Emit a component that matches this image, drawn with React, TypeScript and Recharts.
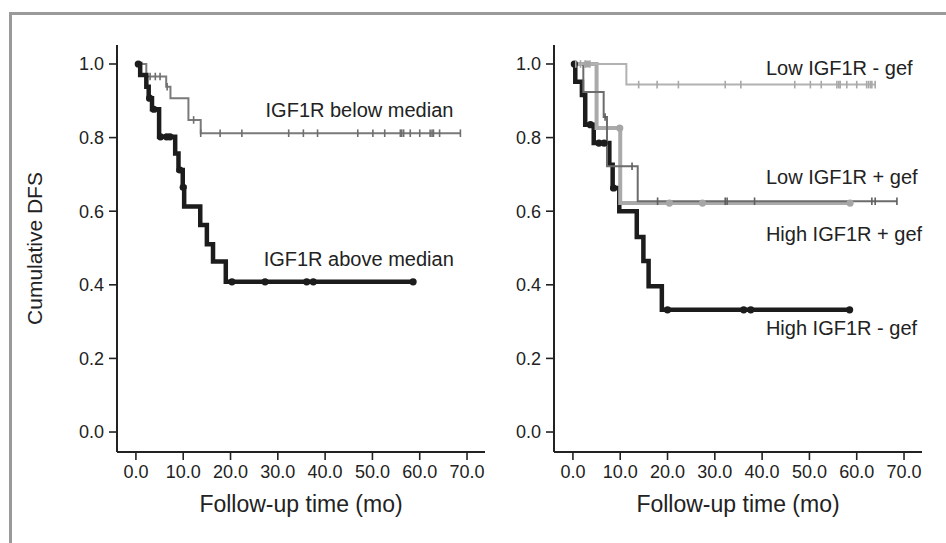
import React from 'react';
import { LineChart, Line, XAxis, YAxis, ReferenceDot } from 'recharts';

// ---------- shared axis values ----------
const xTicks = [0, 10, 20, 30, 40, 50, 60, 70];
const yTicks = [0, 0.2, 0.4, 0.6, 0.8, 1.0];
const xTitle = 'Follow-up time (mo)';
const yTitle = 'Cumulative DFS';

// ---------- left panel: steps [time, survival] and censor times ----------
const aboveSteps: [number, number][] = [
  [0, 1.0], [0.9, 0.97], [2.2, 0.938], [2.7, 0.907], [3.4, 0.877], [4.9, 0.802],
  [8.3, 0.757], [9.0, 0.712], [9.9, 0.665], [10.2, 0.613], [13.6, 0.5625],
  [15.0, 0.51], [16.3, 0.463], [19.0, 0.408],
];
const aboveCensor = [0.5, 2.9, 3.8, 5.2, 6.5, 7.2, 9.3, 10.0, 20.3, 27.3, 36.1, 37.5, 58.6];

const belowSteps: [number, number][] = [
  [0, 1.0], [2.2, 0.966], [6.4, 0.938], [7.3, 0.907], [11.1, 0.848], [13.7, 0.812],
];
const belowCensor = [
  3.0, 4.1, 5.1, 6.6, 12.2, 13.7, 17.8, 22.4, 32.3, 35.4, 38.4, 46.9, 50.1, 52.6,
  55.9, 56.2, 56.6, 58.0, 60.0, 62.2, 62.6, 62.9, 64.2, 68.6,
];

// ---------- right panel ----------
const lowMinusSteps: [number, number][] = [[0, 1.0], [11.3, 0.944]];
const lowMinusCensor = [
  0.6, 1.6, 2.6, 3.6, 13.9, 17.8, 22.3, 32.2, 35.5, 46.9, 50.2, 52.5, 55.8, 56.2,
  56.5, 57.9, 60.0, 62.1, 62.5, 62.9, 63.2, 63.9,
];

const lowPlusSteps: [number, number][] = [
  [0, 1.0], [2.2, 0.924], [6.5, 0.856], [7.2, 0.722], [13.7, 0.627],
];
const lowPlusCensor = [6.8, 12.5, 17.9, 32.2, 32.6, 38.4, 63.2, 63.9, 68.5];

const highPlusSteps: [number, number][] = [[0, 1.0], [5.0, 0.826], [10.0, 0.622]];
const highPlusCensor = [3.0, 9.9, 20.4, 27.4, 58.6];

const highMinusSteps: [number, number][] = [
  [0, 1.0], [0.5, 0.952], [1.9, 0.916], [2.6, 0.835], [4.4, 0.785], [7.7, 0.726],
  [8.4, 0.663], [9.8, 0.6], [13.5, 0.53], [14.9, 0.465], [16.0, 0.396], [18.8, 0.332],
];
const highMinusCensor = [0.3, 3.7, 5.5, 6.6, 8.6, 20.0, 36.1, 37.6, 58.5];

// ---------- annotation labels ----------
const leftNotes = [
  { text: 'IGF1R below median', t: 27.3, s: 0.875 },
  { text: 'IGF1R above median', t: 26.9, s: 0.471 },
];
const rightNotes = [
  { text: 'Low IGF1R - gef', t: 40.7, s: 0.989 },
  { text: 'Low IGF1R + gef', t: 40.7, s: 0.692 },
  { text: 'High IGF1R + gef', t: 40.7, s: 0.538 },
  { text: 'High IGF1R - gef', t: 40.7, s: 0.284 },
];

const FONT = "'Liberation Sans', Arial, Helvetica, sans-serif";
const INK = '#222';

type Pt = { t: number; s: number; c: boolean };

function survAt(steps: [number, number][], t: number) {
  let s = steps[0][1];
  for (const [st, sv] of steps) if (st <= t) s = sv;
  return s;
}

function build(steps: [number, number][], censor: number[]): Pt[] {
  const pts: Pt[] = steps.map(([t, s]) => ({ t, s, c: false }));
  const cs: Pt[] = censor.map((t) => ({ t, s: survAt(steps, t), c: true }));
  return [...pts, ...cs].sort((a, b) => a.t - b.t || (a.c ? 1 : 0) - (b.c ? 1 : 0));
}

const tickMark = (color: string, h = 3.8, w = 1.6) => (props: any) => {
  const { cx, cy, payload, index } = props;
  if (!payload || !payload.c) return <g key={`n${index}`} />;
  return <line key={`m${index}`} x1={cx} x2={cx} y1={cy - h} y2={cy + h} stroke={color} strokeWidth={w} />;
};

const dotMark = (color: string, r = 3.6) => (props: any) => {
  const { cx, cy, payload, index } = props;
  if (!payload || !payload.c) return <g key={`n${index}`} />;
  return <circle key={`m${index}`} cx={cx} cy={cy} r={r} fill={color} stroke="none" />;
};

type SeriesDef = {
  name: string;
  data: Pt[];
  color: string;
  width: number;
  dot: (p: any) => React.ReactElement;
};

function Panel({ left, series, notes, showYTitle }: { left: number; series: SeriesDef[]; notes: { text: string; t: number; s: number }[]; showYTitle: boolean }) {
  return (
    <div style={{ position: 'absolute', left, top: 0 }}>
      <LineChart width={500} height={543} margin={{ top: 45, right: 15, bottom: 0, left: 0 }}>
        <XAxis
          type="number"
          dataKey="t"
          domain={[-4, 73.8]}
          ticks={xTicks}
          allowDuplicatedCategory={false}
          tickFormatter={(v: number) => v.toFixed(1)}
          height={91}
          tickSize={8}
          tickMargin={5}
          axisLine={{ stroke: INK, strokeWidth: 2 }}
          tickLine={{ stroke: INK, strokeWidth: 1.6 }}
          tick={{ fill: INK, fontSize: 18, fontFamily: FONT }}
          label={{ value: xTitle, position: 'insideBottom', offset: 31, fontSize: 23, fill: INK, fontFamily: FONT }}
        />
        <YAxis
          type="number"
          domain={[-0.0543, 1.0516]}
          ticks={yTicks}
          tickFormatter={(v: number) => v.toFixed(1)}
          width={117}
          tickSize={8}
          tickMargin={5}
          axisLine={{ stroke: INK, strokeWidth: 2 }}
          tickLine={{ stroke: INK, strokeWidth: 1.6 }}
          tick={{ fill: INK, fontSize: 18, fontFamily: FONT }}
          label={
            showYTitle
              ? { value: yTitle, angle: -90, position: 'insideLeft', offset: 35, fontSize: 21, fill: INK, fontFamily: FONT, style: { textAnchor: 'middle' } }
              : undefined
          }
        />
        {series.map((sd) => (
          <Line
            key={sd.name}
            name={sd.name}
            data={sd.data}
            dataKey="s"
            type="stepAfter"
            stroke={sd.color}
            strokeWidth={sd.width}
            dot={sd.dot}
            activeDot={false}
            isAnimationActive={false}
            strokeLinejoin="miter"
            strokeLinecap="butt"
          />
        ))}
        {notes.map((n) => (
          <ReferenceDot
            key={n.text}
            x={n.t}
            y={n.s}
            r={0.5}
            fill="none"
            stroke="none"
            ifOverflow="visible"
            label={{ value: n.text, position: 'right', offset: 0, fontSize: 20, fill: INK, fontFamily: FONT }}
          />
        ))}
      </LineChart>
    </div>
  );
}

export default function App() {
  const leftSeries: SeriesDef[] = [
    { name: 'below', data: build(belowSteps, belowCensor), color: '#7a7a7a', width: 2, dot: tickMark('#6e6e6e') },
    { name: 'above', data: build(aboveSteps, aboveCensor), color: '#1c1c1c', width: 4.5, dot: dotMark('#1c1c1c') },
  ];
  const rightSeries: SeriesDef[] = [
    { name: 'highMinus', data: build(highMinusSteps, highMinusCensor), color: '#1c1c1c', width: 4.5, dot: dotMark('#1c1c1c') },
    { name: 'highPlus', data: build(highPlusSteps, highPlusCensor), color: '#aaaaaa', width: 4, dot: dotMark('#a6a6a6') },
    { name: 'lowPlus', data: build(lowPlusSteps, lowPlusCensor), color: '#6c6c6c', width: 2, dot: tickMark('#5e5e5e') },
    { name: 'lowMinus', data: build(lowMinusSteps, lowMinusCensor), color: '#b2b2b2', width: 2, dot: tickMark('#a8a8a8') },
  ];
  return (
    <div style={{ position: 'fixed', left: 0, top: 0, width: 946, height: 543, background: '#fff', overflow: 'hidden' }}>
      <div style={{ position: 'absolute', left: 9, top: 12, width: 937, height: 2.5, background: '#9a9a9a' }} />
      <div style={{ position: 'absolute', left: 9, top: 12, width: 2.5, height: 531, background: '#9a9a9a' }} />
      <Panel left={0} series={leftSeries} notes={leftNotes} showYTitle />
      <Panel left={437} series={rightSeries} notes={rightNotes} showYTitle={false} />
    </div>
  );
}
